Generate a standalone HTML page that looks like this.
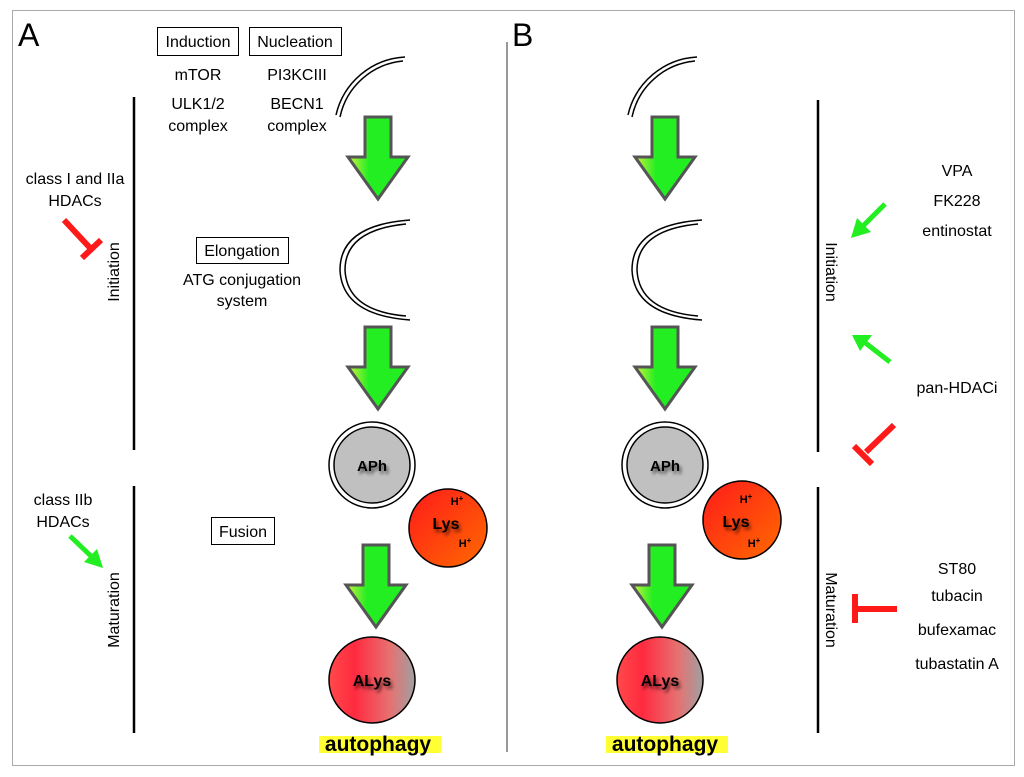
<!DOCTYPE html>
<html><head><meta charset="utf-8"><style>
html,body{margin:0;padding:0;background:#fff;}
svg{display:block;}
text{font-family:"Liberation Sans",sans-serif;}
</style></head><body>
<svg width="1024" height="777" viewBox="0 0 1024 777" xmlns="http://www.w3.org/2000/svg">
<defs>
<linearGradient id="ag" x1="0" x2="1" y1="0" y2="0">
<stop offset="0" stop-color="#d0f040"/><stop offset="0.35" stop-color="#22ee22"/><stop offset="1" stop-color="#22ee22"/>
</linearGradient>
<linearGradient id="lys" x1="0" y1="0" x2="1" y2="1">
<stop offset="0" stop-color="#ff1a1a"/><stop offset="1" stop-color="#ff6a00"/>
</linearGradient>
<linearGradient id="alys" x1="0" x2="1" y1="0" y2="0">
<stop offset="0" stop-color="#ff4a4a"/><stop offset="0.3" stop-color="#ff2a40"/><stop offset="0.7" stop-color="#e87070"/><stop offset="1" stop-color="#a0a0a0"/>
</linearGradient>
<filter id="sh" x="-20%" y="-20%" width="150%" height="160%"><feGaussianBlur in="SourceAlpha" stdDeviation="1.5"/><feOffset dx="2" dy="3"/><feComponentTransfer><feFuncA type="linear" slope="0.6"/></feComponentTransfer><feMerge><feMergeNode/><feMergeNode in="SourceGraphic"/></feMerge></filter>
<g id="arrow"><path d="M-13,0 H13 V40 H30 L0,82 L-30,40 H-13 Z" fill="url(#ag)" stroke="#555" stroke-width="3" stroke-linejoin="miter"/></g>
</defs>
<rect x="12.5" y="10.5" width="1002" height="755" fill="#fff" stroke="#aaa" stroke-width="1"/>
<text x="18" y="46" font-size="32">A</text>
<text x="512" y="46" font-size="32">B</text>
<line x1="507" y1="42" x2="507" y2="752" stroke="#333" stroke-width="1"/>

<!-- Panel A -->
<rect x="157.5" y="27.5" width="81" height="28" fill="#fff" stroke="#000"/>
<text x="198" y="47" font-size="16" text-anchor="middle">Induction</text>
<rect x="249.5" y="27.5" width="92" height="28" fill="#fff" stroke="#000"/>
<text x="295" y="47" font-size="16" text-anchor="middle">Nucleation</text>
<g font-size="16" text-anchor="middle">
<text x="198" y="80">mTOR</text><text x="297" y="80">PI3KCIII</text>
<text x="198" y="109">ULK1/2</text><text x="297" y="109">BECN1</text>
<text x="198" y="131">complex</text><text x="297" y="131">complex</text>
</g>
<g fill="none" stroke="#000" stroke-width="1.5">
<path d="M405,57 A75,75 0 0 0 336,115"/><path d="M403,61 A71,71 0 0 0 340,117"/>
<path d="M410,220 Q340,225 340,270 Q342,315 410,320"/><path d="M406,224 Q345,230 345,270 Q347,311 406,316"/>
<path d="M697,57 A75,75 0 0 0 628,115"/><path d="M695,61 A71,71 0 0 0 632,117"/>
<path d="M702,220 Q632,225 632,270 Q634,315 702,320"/><path d="M698,224 Q637,230 637,270 Q639,311 698,316"/>
</g>
<use href="#arrow" x="378" y="117"/>
<use href="#arrow" x="378" y="327"/>
<use href="#arrow" x="376" y="545"/>
<rect x="196.5" y="237.5" width="92" height="26" fill="#fff" stroke="#000"/>
<text x="242" y="256" font-size="16" text-anchor="middle">Elongation</text>
<text x="242" y="285" font-size="16" text-anchor="middle">ATG conjugation</text>
<text x="242" y="306" font-size="16" text-anchor="middle">system</text>
<rect x="211.5" y="517.5" width="63" height="27" fill="#fff" stroke="#000"/>
<text x="243" y="537" font-size="16" text-anchor="middle">Fusion</text>

<circle cx="372" cy="465" r="43" fill="#fff" stroke="#000" stroke-width="1.5"/>
<circle cx="372" cy="465" r="38" fill="#c0c0c0" stroke="#000" stroke-width="1.5"/>
<text x="372" y="471" font-size="15" font-weight="bold" text-anchor="middle" filter="url(#sh)">APh</text>
<circle cx="448" cy="528" r="39" fill="url(#lys)" stroke="#000" stroke-width="1.5"/>
<text x="446" y="529" font-size="16" font-weight="bold" text-anchor="middle" filter="url(#sh)">Lys</text>
<text x="457" y="505" font-size="11" font-weight="bold" text-anchor="middle">H<tspan font-size="8" dy="-4">+</tspan></text>
<text x="465" y="547" font-size="11" font-weight="bold" text-anchor="middle">H<tspan font-size="8" dy="-4">+</tspan></text>
<circle cx="372" cy="680" r="43" fill="url(#alys)" stroke="#000" stroke-width="1.5"/>
<text x="372" y="686" font-size="16" font-weight="bold" text-anchor="middle" filter="url(#sh)">ALys</text>
<rect x="319" y="736" width="122" height="17" fill="#ffff33"/>
<text x="378" y="751" font-size="21" font-weight="bold" text-anchor="middle">autophagy</text>

<line x1="134" y1="97" x2="134" y2="450" stroke="#000" stroke-width="2.5"/>
<line x1="134" y1="486" x2="134" y2="733" stroke="#000" stroke-width="2.5"/>
<text transform="translate(119,272) rotate(-90)" font-size="16" text-anchor="middle">Initiation</text>
<text transform="translate(119,610) rotate(-90)" font-size="16" text-anchor="middle">Maturation</text>
<text x="75" y="184" font-size="16" text-anchor="middle">class I and IIa</text>
<text x="75" y="206" font-size="16" text-anchor="middle">HDACs</text>
<g stroke="#ff1a1a" stroke-width="6"><line x1="64" y1="220" x2="92" y2="250"/><line x1="82" y1="258" x2="101" y2="240"/></g>
<text x="63" y="505" font-size="16" text-anchor="middle">class IIb</text>
<text x="63" y="527" font-size="16" text-anchor="middle">HDACs</text>
<g stroke="#22ee22" stroke-width="5" fill="#22ee22"><line x1="70" y1="536" x2="93" y2="558"/></g>
<path d="M103,568 L84,562 L97,549 Z" fill="#22ee22"/>

<!-- Panel B -->
<use href="#arrow" x="665" y="117"/>
<use href="#arrow" x="665" y="327"/>
<use href="#arrow" x="662" y="545"/>
<circle cx="665" cy="465" r="43" fill="#fff" stroke="#000" stroke-width="1.5"/>
<circle cx="665" cy="465" r="38" fill="#c0c0c0" stroke="#000" stroke-width="1.5"/>
<text x="665" y="471" font-size="15" font-weight="bold" text-anchor="middle" filter="url(#sh)">APh</text>
<circle cx="742" cy="520" r="39" fill="url(#lys)" stroke="#000" stroke-width="1.5"/>
<text x="736" y="527" font-size="16" font-weight="bold" text-anchor="middle" filter="url(#sh)">Lys</text>
<text x="746" y="503" font-size="11" font-weight="bold" text-anchor="middle">H<tspan font-size="8" dy="-4">+</tspan></text>
<text x="754" y="547" font-size="11" font-weight="bold" text-anchor="middle">H<tspan font-size="8" dy="-4">+</tspan></text>
<circle cx="660" cy="680" r="43" fill="url(#alys)" stroke="#000" stroke-width="1.5"/>
<text x="660" y="686" font-size="16" font-weight="bold" text-anchor="middle" filter="url(#sh)">ALys</text>
<rect x="606" y="736" width="122" height="17" fill="#ffff33"/>
<text x="665" y="751" font-size="21" font-weight="bold" text-anchor="middle">autophagy</text>

<line x1="818" y1="100" x2="818" y2="452" stroke="#000" stroke-width="2.5"/>
<line x1="818" y1="487" x2="818" y2="733" stroke="#000" stroke-width="2.5"/>
<text transform="translate(826,272) rotate(90)" font-size="16" text-anchor="middle">Initiation</text>
<text transform="translate(826,610) rotate(90)" font-size="16" text-anchor="middle">Maturation</text>
<g font-size="16" text-anchor="middle">
<text x="957" y="176">VPA</text><text x="957" y="206">FK228</text><text x="957" y="236">entinostat</text>
<text x="957" y="393">pan-HDACi</text>
<text x="957" y="574">ST80</text><text x="957" y="601">tubacin</text><text x="957" y="635">bufexamac</text><text x="957" y="669">tubastatin A</text>
</g>
<line x1="885" y1="204" x2="862" y2="227" stroke="#22ee22" stroke-width="5"/>
<path d="M851,238 L857,218 L871,232 Z" fill="#22ee22"/>
<line x1="890" y1="362" x2="863" y2="341" stroke="#22ee22" stroke-width="5"/>
<path d="M852,335 L872,335 L860,351 Z" fill="#22ee22"/>
<g stroke="#ff1a1a" stroke-width="6"><line x1="894" y1="425" x2="866" y2="452"/><line x1="854" y1="446" x2="872" y2="464"/></g>
<g stroke="#ff1a1a" stroke-width="6"><line x1="855" y1="609" x2="897" y2="609"/><line x1="855" y1="594" x2="855" y2="623"/></g>
</svg>
</body></html>
